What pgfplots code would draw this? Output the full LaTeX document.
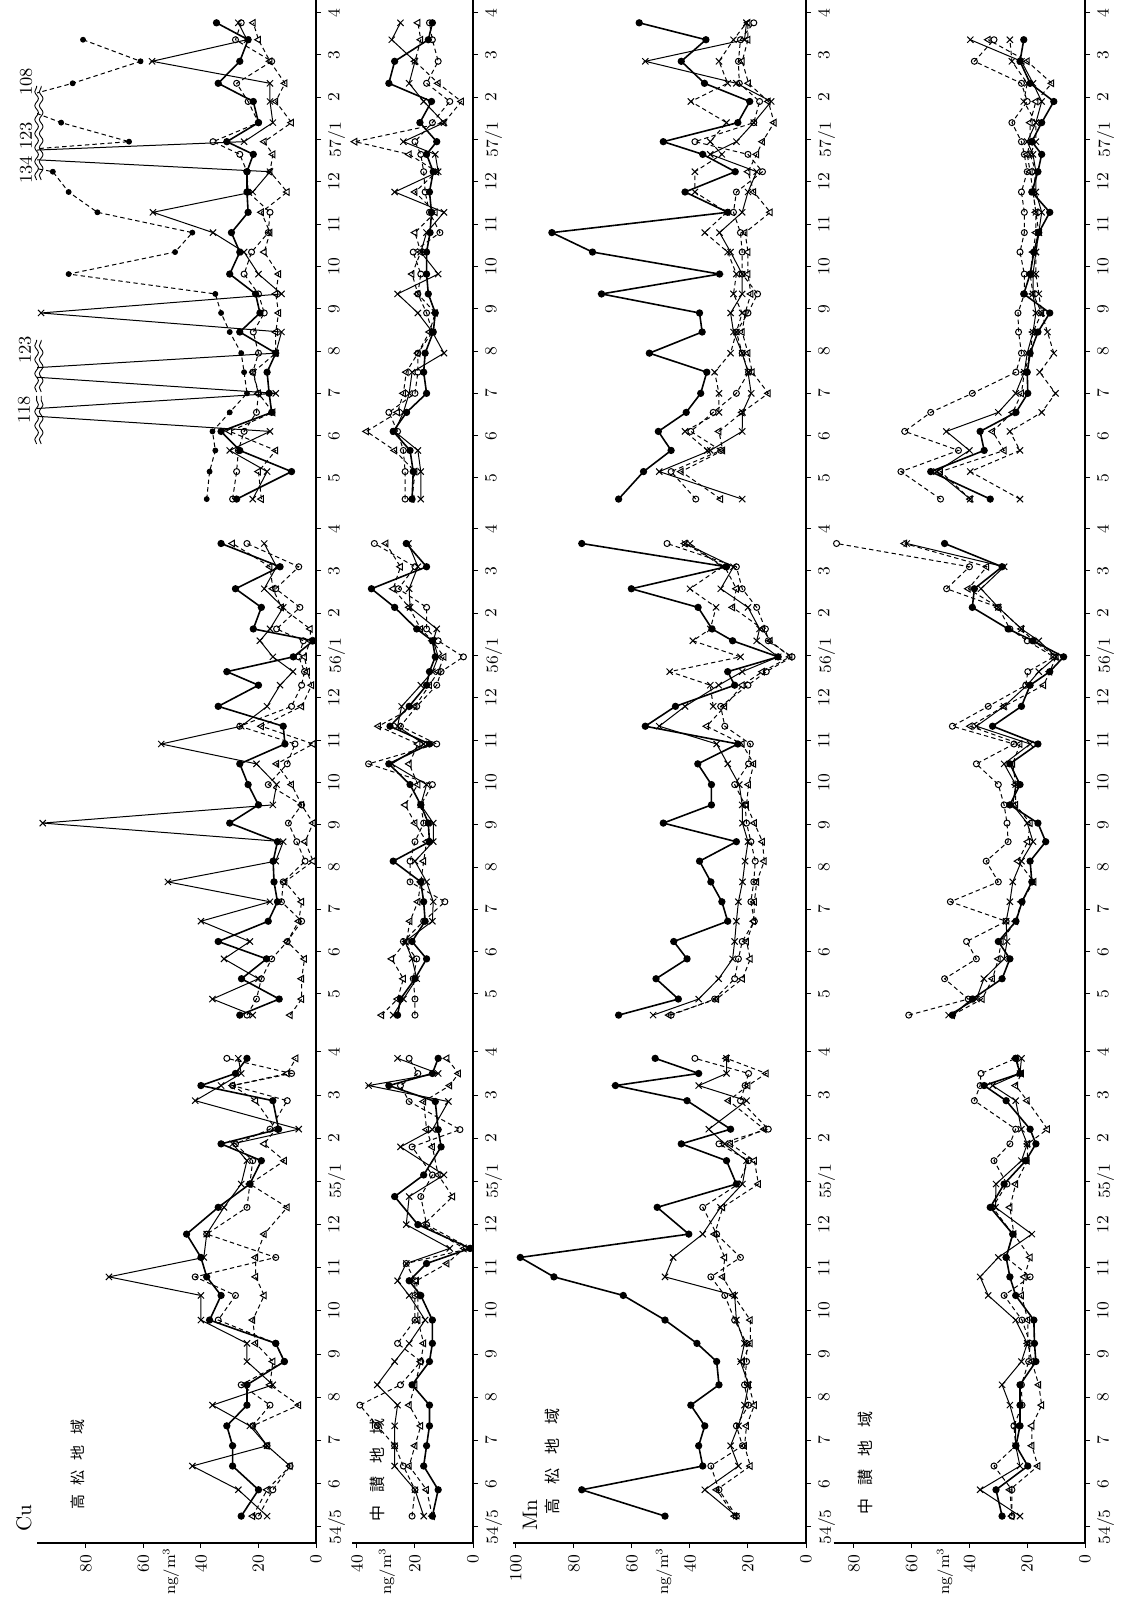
\documentclass[border=0pt]{standalone}
\usepackage{fontspec}
\usepackage{pgfplots}
\usepackage{pgfplotstable}
\pgfplotsset{compat=1.18}
\usetikzlibrary{decorations.pathmorphing}
\newfontfamily\jp{Noto Sans CJK JP}

% ---------- Cu Takamatsu ----------
\pgfplotstableread{
t A B C D
0.25 26 17 20 22
0.86 20 27 15 17
1.41 29 43 9 9
1.88 29 17 17 17
2.34 31 23 22 22
2.82 24 36 16 6
3.29 24 15 26 16
3.83 11 24 11 15
4.25 14 24 14 21
4.79 37 40 34 22
5.36 33 40 28 18
5.79 38 72 42 21
6.24 40 39 14 21
6.78 45 38 38 18
7.40 34 32 24 10
7.94 23 26 23 23
8.48 19 24 22 11
8.87 33 29 28 18
9.21 13 6 16 14
9.87 15 42 10 21
10.22 40 33 29 29
10.50 28 26 8.5 10
10.85 24 27 31 7
}\CuTa
\pgfplotstableread{
t A B C D
-0.5 26.5 22 24 9
-0.12 12.8 36 20.7 5
0.36 25.9 20 19 5
0.83 17.2 32 15.4 4
1.24 34 23 10 10
1.72 16.6 40 5 6
2.18 13.4 16 12 5
2.65 14.6 51.5 11.4 10.8
3.14 14.9 14 3.8 1
3.6 13.4 11.4 6.7 3.8
4.04 30 95 9.6 1
4.47 20 15 5 5
4.95 23.6 13.7 16.6 8.5
5.44 26.5 20.7 10 13.7
5.91 10.8 53.8 7.3 1
6.33 11.4 26 26.5 19
6.8 34 17 8.5 5
7.3 20 12.5 5 1.5
7.62 31 8 4 3
7.97 7.9 15 6 4
8.35 0.9 19.5 4.4 2
8.63 21.8 16 13.7 2
9.14 19 11.4 5.6 12
9.58 28 18 14 15
10.1 12.5 13.7 6 16
10.65 33 18 24 29
}\CuTb
\pgfplotstableread{
t A B C D
-0.5 27.6 22 29 19
0.15 8.5 17 27.6 20
0.65 26.5 30 27 14
1.1 33 16 25 30
1.55 15.4 118 20.7 15
2.0 16.3 14 20 20
2.5 17 123 22 21.8
2.95 14 14 20 14
3.45 26.5 12 21.8 14
3.9 19.5 95.6 18 13
4.35 21 12 20 14
4.82 30 20 25 13
5.34 26.5 25 22.4 18
5.8 29.4 35.8 16.6 16
6.28 23.6 56.7 16 19
6.76 24 22 23.6 10
7.24 24 16 24 16
7.65 21.8 134 26.5 15
7.95 31 25 35.8 18
8.4 20 15 20 8.5
8.9 21.8 16 23.6 14
9.33 34 16 27.6 10.8
9.85 26.5 57 15.4 16
10.36 23.6 24 28 20
10.76 34.6 27 26 21.8
}\CuTc
\pgfplotstableread{
t E
-0.5 38
0.15 37
0.65 35
1.1 36
1.55 30
2.0 24
2.5 25
2.95 26
3.45 30
3.9 33
4.35 35
4.82 86
5.34 49
5.8 43
6.28 76
6.76 86
7.24 91.5
7.65 123
7.95 65
8.4 88.6
8.9 108
9.33 84.6
9.85 61
10.36 81
}\CuTcE
% ---------- Cu Chusan ----------
\pgfplotstableread{
t A B C D
0.25 14 17 21 14
0.86 12 20 20 16
1.41 17 27 24 22
1.88 16 27 27 20
2.34 15 27 33 18
2.82 15 26 39 22
3.29 21 33 25 20
3.83 15 27 18 18
4.25 14 22 26 17
4.79 14 16.5 20 19
5.36 18 22 20 19
5.70 22 26 20 19.5
6.10 16 23 23 9
6.45 1 8 1 3
7.00 19 23 16 17
7.65 27 22 18 7
8.15 17 10 14 12
8.80 11 25 21 14
9.20 12 14 4.5 16
9.85 13 8.5 22 17
10.22 29 36 25 8
10.50 14 12 19 5
10.85 12 26 22 9
}\CuCa
\pgfplotstableread{
t A B C D
-0.5 26 27.5 20 31.5
-0.12 25 24 20 26
0.36 20 19.4 20.6 24
0.83 16 21 19.4 28
1.24 21 23.4 24 23
1.72 16.5 14 17 21.7
2.18 17 13.7 9.7 19
2.65 18 16 21.7 18
3.14 27.5 20 21.7 17
3.6 15 13.7 20 16
4.04 15.4 13.7 17 20
4.47 18 18 18 23.4
4.95 21.7 16 14 19
5.44 29 28 36 22
5.91 15 17 12.5 19
6.33 28.6 26 25 32.6
6.8 22 24.6 19.4 20
7.3 16 18 12.5 15
7.62 15 14 11 12
7.97 13 12 3.3 10
8.35 14 13.7 12 14
8.63 19.4 12.5 16 18
9.14 27 21.7 16 22
9.58 35 22 25.7 27.5
10.1 16 19 20 25
10.65 23 22.3 34 30
}\CuCb
\pgfplotstableread{
t A B C D
-0.5 21 18 23.4 21
0.15 20.6 18 23.4 20
0.65 21.7 19 24 27
1.1 27.5 27 26 36.7
1.55 22.9 24 29 26
2.0 16 22 20 24
2.5 17 21 19 23
2.95 16.5 10 19 19
3.45 13.7 14 14 15
3.9 13 19 16 13
4.35 15.4 26 19 19
4.82 16 12 18 21
5.34 16 18 20.6 18
5.8 14.8 16 11.4 20
6.28 14.3 10 15 13
6.76 15 27 16.5 20
7.24 13.7 12 17 12.5
7.65 16 13 18 22
7.95 12.5 24 20 40.7
8.4 18.3 10 14 10
8.9 14.3 17 8 4
9.33 29 22 16 12
9.85 27 20 12 20
10.36 15.4 28 14 18
10.76 14 25 15 19
}\CuCc
% ---------- Mn Takamatsu ----------
\pgfplotstableread{
t A B C D
0.25 48.6 24 24 24.6
0.86 77.3 34.9 30 30.8
1.41 35.6 23.3 32.8 19.2
1.88 37 26 21.9 21.2
2.34 34.9 23.3 24 20.5
2.82 39.7 21.2 19.8 17.8
3.29 30 19.8 21.2 19.8
3.83 30.8 22.6 20.5 21.9
4.25 37.6 21.2 20.5 19.2
4.79 48.6 24 24.6 19.2
5.36 63 24.6 28 25
5.79 86.9 48.6 32.8 28.7
6.24 98.5 45.8 22.6 28
6.78 40.4 35.6 30.8 31.5
7.40 51.3 29.5 35.6 28.7
7.94 24 21.9 23.3 16.4
8.48 27.4 20.5 19.8 17.8
8.87 43 28 30 26
9.21 26 33.5 13 14.4
9.87 41 20.5 22.6 26.7
10.22 65.7 37 21 20
10.50 37 27.4 19.8 13.7
10.85 52 27.4 38.3 27.4
}\MnTa
\pgfplotstableread{
t A B C D
-0.5 64.6 52.7 46.5 47.2
-0.12 44 37 31.5 30.8
0.36 51.7 30.1 24.6 21.9
0.83 41 25.3 23.3 19.2
1.24 45.6 24.6 22 20.5
1.72 27 24 17.8 18
2.18 29 23.3 19 17.8
2.65 32.8 21.9 18 17
3.14 36.7 21 17.5 14.4
3.6 24 20 19 15
4.04 49.2 21.9 20.5 17.8
4.47 32.6 22 21 20.5
4.95 32.6 23 24.6 19.8
5.44 37.3 27 19.8 18
5.91 23.5 30.8 19.2 22
6.33 55.4 50.6 28 34.2
6.8 45 41.7 29.4 28
7.3 24.6 30.1 20 22
7.62 27 22 13.7 15
7.97 9.6 9.6 4.8 5.5
8.35 25.3 17 13 12.3
8.63 32.4 16 14 15
9.14 37.2 20 17 25.3
9.58 60.2 29.4 22 24
10.1 27.4 25 24 28
10.65 77.3 41.7 47.9 41.7
}\MnTb
\pgfplotstableread{
t F
6.8 32
7.3 33
7.62 47
7.97 22.6
8.35 39
8.63 33
9.14 31
9.58 40
10.1 29
10.65 40
}\MnTbF
\pgfplotstableread{
t A B C D
-0.5 64.6 22 38 29.4
0.15 56 50.6 46.5 43
0.65 46.5 33 29.4 28.7
1.1 50.9 22 39.7 30
1.55 41.3 21.9 32 22
2.0 36.3 18.9 24 13
2.5 34.2 20 19.8 18.5
2.95 54 22 22 20
3.45 35.8 25 24 22
3.9 36.7 26 20 21
4.35 70.5 22 16.7 19
4.82 29.8 22 22 20
5.34 73.6 26 22 20
5.8 87.6 29.8 22.6 21
6.28 27 22 25 12.3
6.76 41.7 20 24 18
7.24 24.4 17 15 20
7.65 35.6 33 20 17
7.95 49.2 24 38.3 15
8.4 23.5 18 18 11
8.9 19.4 12 16 13
9.33 35 24 23 19.8
9.85 43 55.4 23.3 22
10.36 34.5 21.2 22.6 20
10.76 57.5 20.5 18 20
}\MnTc
\pgfplotstableread{
t F
0.65 34
1.1 41.7
1.55 30
2.0 30
2.5 31.5
2.95 26
3.45 24
3.9 22
4.35 25
4.82 24
5.34 27
5.8 34.9
6.28 27.4
6.76 38.3
7.24 38.3
7.65 29
7.95 33
8.4 27.4
8.9 39.7
9.33 27
9.85 30
10.36 25
10.76 20.5
}\MnTcF
% ---------- Mn Chusan ----------
\pgfplotstableread{
t A B C D
0.25 28.7 22.5 25.3 25.3
0.86 30.8 36.3 25.3 26
1.41 19.8 22.5 31.5 16.3
1.88 23.9 24 24 18.4
2.34 22.5 24 24.6 18.4
2.82 22.5 26 21.8 15
3.29 22.5 28.7 22 16
3.83 17 22 19.5 18.4
4.25 17.5 20 19 19.8
4.79 17.7 24 21.8 19.8
5.36 24 33.5 28 22
5.79 26 36.3 19 21
6.24 27.3 30 27.3 19
6.78 25 18.4 25 24.6
7.40 32.8 31 32 26
7.94 28 30.8 27 24
8.48 20.5 22 31.5 20
8.87 17 20 26 19.8
9.21 19 22 24 13
9.87 27.3 24 38.3 20
10.22 34.9 32 36.3 24
10.50 22.5 22.5 36 22
10.85 24 22 24 24
}\MnCa
\pgfplotstableread{
t A B C D
-0.5 45.9 47.2 61 45.9
-0.12 39 37.6 40.4 35.6
0.36 28.7 35 48.6 32
0.83 26 28 37.6 30
1.24 30 27 41 29
1.72 23.9 27.3 27.3 24
2.18 21.8 26 46.6 22
2.65 18.4 25 30 17.7
3.14 19 22 34.2 23.2
3.6 13.6 18 26.6 19.8
4.04 16.3 20 27 19
4.47 26 25 28 24
4.95 22.5 24 30 24
5.44 26 28 37.6 25
5.91 16.3 19 24.6 22.5
6.33 32 37.6 45.9 39.7
6.8 22 28 33.5 28
7.3 19 20 20.5 14.3
7.62 12.2 16 19.8 12.2
7.97 7.4 10 10.8 10
8.35 18 16 20 18
8.63 26.6 22 26 22
9.14 39 30 30 30
9.58 38.3 36 47.9 40.4
10.1 28.7 28 40 34
10.65 48.6 61.7 86 62.4
}\MnCb
\pgfplotstableread{
t A B C D F
-0.5 32.8 39.7 50 39.7 22.5
0.15 53.4 51.4 63.7 50 39.7
0.65 34.9 40 43.8 28 22.5
1.1 36.3 48 62.4 32 26
1.55 23.9 30 53.4 25 15
2.0 19.8 24 39 22 10.2
2.5 20 21 23.9 21 15.7
2.95 19 20 22 19 10.8
3.45 16.3 18 23 18 13
3.9 12.2 17 23.2 15 15
4.35 21.2 18 21 18 16
4.82 19 18 21 19 17
5.34 17.7 17 22.5 18 17
5.8 16 16 21 17 16
6.28 12.2 15 21 17 17
6.76 18.4 17 22 18 18
7.24 16.3 17 20 19 17
7.65 15 18 21 20 19
7.95 18.4 20 22 19 17
8.4 15 17 25.3 19 17
8.9 10.8 15 20 17 21.2
9.33 19 18 22 11.5 20
9.85 22.5 22 38.3 20 25.3
10.36 21.2 39.7 31.5 33.5 26
}\MnCc

\pgfplotsset{
  sA/.style={black, line width=0.8pt, mark=*, mark size=1.4pt, mark options={solid}},
  sB/.style={black, line width=0.5pt, mark=x, mark size=2.2pt, mark options={solid}},
  sC/.style={black, line width=0.5pt, dash pattern=on 2.2pt off 1.6pt, mark=o, mark size=1.5pt, mark options={solid}},
  sD/.style={black, line width=0.5pt, dash pattern=on 2.2pt off 1.6pt, mark=triangle, mark size=1.9pt, mark options={solid, rotate=90}},
  sE/.style={black, line width=0.5pt, dash pattern=on 2.2pt off 1.6pt, mark=*, mark size=1.2pt, mark options={solid}},
  sF/.style={black, line width=0.5pt, dash pattern=on 2.2pt off 1.6pt, mark=x, mark size=2.2pt, mark options={solid}},
  seg1/.style={y filter/.expression={1.021*y}},
  seg2/.style={y filter/.expression={y+12.6}},
  seg3/.style={y filter/.expression={y+24.8}},
  panel/.style={
    scale only axis, height=771.5pt,
    ymin=-0.38, ymax=36.1, xmax=0,
    anchor=south east,
    x filter/.expression={-x},
    axis x line*=bottom, axis y line*=right,
    axis line style={-, black, line width=0.6pt},
    tick style={black, line width=0.5pt},
    tick align=outside, major tick length=2.5pt,
    ytick={0,1.021,2.042,3.063,4.084,5.105,6.126,7.147,8.168,9.189,10.21,11.231,
           12.6,13.6,14.6,15.6,16.6,17.6,18.6,19.6,20.6,21.6,22.6,23.6,
           24.8,25.8,26.8,27.8,28.8,29.8,30.8,31.8,32.8,33.8,34.8,35.8},
    yticklabels={54/5,6,7,8,9,10,11,12,55/1,2,3,4,5,6,7,8,9,10,11,12,56/1,2,3,4,5,6,7,8,9,10,11,12,57/1,2,3,4},
    xticklabel style={rotate=90, anchor=east, font=\fontsize{8.5}{9}\selectfont},
    yticklabel style={rotate=90, anchor=north, font=\fontsize{8.5}{9}\selectfont},
    clip mode=individual,
  }
}
\newcommand\fourplots[2]{%
  \addplot[sD,#2] table[x=D,y=t]{#1};
  \addplot[sC,#2] table[x=C,y=t]{#1};
  \addplot[sB,#2] table[x=B,y=t]{#1};
  \addplot[sA,#2] table[x=A,y=t]{#1};}

\begin{document}
\begin{tikzpicture}
\useasboundingbox (0pt,0pt) rectangle (562.5pt,799pt);

% Panel 1: Cu Takamatsu
\begin{axis}[panel, at={(158pt,27.5pt)}, width=139.5pt, xmin=-97,
  xtick={-80,-60,-40,-20,0}, xticklabels={80,60,40,20,0}]
  \fourplots{\CuTa}{seg1}
  \fourplots{\CuTb}{seg2}
  \addplot[sE,seg3] table[x=E,y=t]{\CuTcE};
  \fourplots{\CuTc}{seg3}
\end{axis}

% Panel 2: Cu Chusan
\begin{axis}[panel, at={(236.5pt,27.5pt)}, width=60.5pt, xmin=-41.7,
  xtick={-40,-20,0}, xticklabels={40,20,0}]
  \fourplots{\CuCa}{seg1}
  \fourplots{\CuCb}{seg2}
  \fourplots{\CuCc}{seg3}
\end{axis}

% Panel 3: Mn Takamatsu
\begin{axis}[panel, at={(403pt,27.5pt)}, width=146.5pt, xmin=-101,
  xtick={-100,-80,-60,-40,-20,0}, xticklabels={100,80,60,40,20,0}]
  \fourplots{\MnTa}{seg1}
  \addplot[sF,seg2] table[x=F,y=t]{\MnTbF};
  \fourplots{\MnTb}{seg2}
  \addplot[sF,seg3] table[x=F,y=t]{\MnTcF};
  \fourplots{\MnTc}{seg3}
\end{axis}

% Panel 4: Mn Chusan
\begin{axis}[panel, at={(542.5pt,27.5pt)}, width=125.7pt, xmin=-87,
  xtick={-80,-60,-40,-20,0}, xticklabels={80,60,40,20,0}]
  \fourplots{\MnCa}{seg1}
  \fourplots{\MnCb}{seg2}
  \addplot[sF,seg3] table[x=F,y=t]{\MnCc};
  \fourplots{\MnCc}{seg3}
\end{axis}

% labels
\node[rotate=90, font=\fontsize{10.5}{10.5}\selectfont] at (12pt,40pt) {Cu};
\node[rotate=90, font=\fontsize{10.5}{10.5}\selectfont] at (265pt,41.5pt) {Mn};
\node[rotate=90, font=\jp\fontsize{7.5}{8}\selectfont] at (39pt,66.5pt) {高\hspace{5pt}松\hspace{5pt}地\hspace{5pt}域};
\node[rotate=90, font=\jp\fontsize{8}{8}\selectfont] at (188.5pt,64pt) {中\hspace{6.5pt}讃\hspace{6.5pt}地\hspace{6.5pt}域};
\node[rotate=90, font=\jp\fontsize{8}{8}\selectfont] at (276pt,68pt) {高\hspace{7pt}松\hspace{7pt}地\hspace{7pt}域};
\node[rotate=90, font=\jp\fontsize{8}{8}\selectfont] at (432.5pt,67.3pt) {中\hspace{6.5pt}讃\hspace{6.5pt}地\hspace{6.5pt}域};
\foreach \xx in {85.5,193.5,332,472.5}
  \node[rotate=90, anchor=west, inner sep=0pt, font=\fontsize{7.8}{8}\selectfont] at (\xx pt,1.5pt) {ng/m$^3$};

% off-scale values of Cu Takamatsu 56/57
\node[rotate=90, font=\fontsize{9}{9}\selectfont] at (12pt,594pt) {118};
\node[rotate=90, font=\fontsize{9}{9}\selectfont] at (12.5pt,624pt) {123};
\node[rotate=90, font=\fontsize{9}{9}\selectfont] at (13pt,714pt) {134};
\node[rotate=90, font=\fontsize{9}{9}\selectfont] at (13pt,731pt) {123};
\node[rotate=90, font=\fontsize{9}{9}\selectfont] at (13pt,758pt) {108};
\begin{scope}[line width=0.45pt, decoration={snake, amplitude=0.9pt, segment length=7pt}]
  \foreach \xx in {18.3,20.6}{
    \draw[decorate] (\xx pt,577pt) -- (\xx pt,601pt);
    \draw[decorate] (\xx pt,603pt) -- (\xx pt,629pt);
    \draw[decorate] (\xx pt,709pt) -- (\xx pt,756pt);
  }
\end{scope}
\end{tikzpicture}
\end{document}
